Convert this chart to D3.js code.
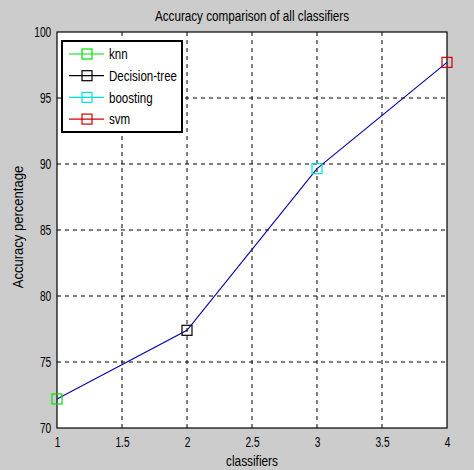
<!DOCTYPE html>
<html>
<head>
<meta charset="utf-8">
<script src="https://cdn.jsdelivr.net/npm/d3@7"></script>
<style>
  body { margin: 0; background: #cccccc; }
  text { font-family: "Liberation Sans", Arial, sans-serif; fill: #000; }
</style>
</head>
<body>
<div id="chart"></div>
<script>
var svgWidth = 474;
var svgHeight = 470;
var margin = { top: 32, right: 27, bottom: 42, left: 57 };
var width = svgWidth - margin.left - margin.right;
var height = svgHeight - margin.top - margin.bottom;

// data
var classifiers = ["knn", "Decision-tree", "boosting", "svm"];
var xValues = [1, 2, 3, 4];
var accuracy = [72.2, 77.4, 89.65, 97.7];
var markerColors = ["#00e000", "#000000", "#00e0e0", "#d00000"];
var xTicks = [1, 1.5, 2, 2.5, 3, 3.5, 4];
var yTicks = [70, 75, 80, 85, 90, 95, 100];

var svg = d3.select("#chart")
  .append("svg")
  .attr("width", svgWidth)
  .attr("height", svgHeight);

svg.append("rect")
  .attr("width", svgWidth)
  .attr("height", svgHeight)
  .attr("fill", "#cccccc");

var chart = svg.append("g")
  .attr("transform", `translate(${margin.left}, ${margin.top})`);

var scaleX = d3.scaleLinear().domain([1, 4]).range([0, width]);
var scaleY = d3.scaleLinear().domain([70, 100]).range([height, 0]);

chart.append("rect")
  .attr("width", width)
  .attr("height", height)
  .attr("fill", "#fff");

// dashed grid
chart.selectAll(".gx")
  .data(xTicks.slice(1, -1))
  .enter().append("line")
  .attr("x1", d => scaleX(d)).attr("x2", d => scaleX(d))
  .attr("y1", 0).attr("y2", height)
  .attr("stroke", "#000")
  .attr("stroke-dasharray", "4,4");
chart.selectAll(".gy")
  .data(yTicks.slice(1, -1))
  .enter().append("line")
  .attr("x1", 0).attr("x2", width)
  .attr("y1", d => scaleY(d)).attr("y2", d => scaleY(d))
  .attr("stroke", "#000")
  .attr("stroke-dasharray", "4,4");

var xaxis = d3.axisBottom(scaleX).tickValues(xTicks).tickSize(0).tickPadding(8)
  .tickFormat(d3.format("~g"));
var yaxis = d3.axisLeft(scaleY).tickValues(yTicks).tickSize(0);

var chartBottom = chart.append("g")
  .attr("transform", `translate(0, ${height})`)
  .call(xaxis);
var chartLeft = chart.append("g")
  .call(yaxis);
[chartBottom, chartLeft].forEach(function(a) {
  a.select(".domain").remove();
  a.selectAll("text").style("font-size", "15px")
    .style("font-family", '"Liberation Sans", Arial, sans-serif');
});
chartBottom.selectAll("text").attr("transform", "scale(0.68,1)");
chartLeft.selectAll("text").attr("x", -8.5).attr("transform", "scale(0.68,1)");

chart.append("rect")
  .attr("width", width)
  .attr("height", height)
  .attr("fill", "none")
  .attr("stroke", "#000")
  .attr("stroke-width", 1.2);

// line
var line = d3.line()
  .x((d, i) => scaleX(xValues[i]))
  .y(d => scaleY(d));
chart.append("path")
  .datum(accuracy)
  .attr("d", line)
  .attr("fill", "none")
  .attr("stroke", "#0a0aa8")
  .attr("stroke-width", 1.2);

chart.selectAll(".mark")
  .data(accuracy)
  .enter().append("rect")
  .attr("x", (d, i) => scaleX(xValues[i]) - 5)
  .attr("y", d => scaleY(d) - 5)
  .attr("width", 10)
  .attr("height", 10)
  .attr("fill", "none")
  .attr("stroke", (d, i) => markerColors[i])
  .attr("stroke-width", 1.2);

// legend
var legend = chart.append("g")
  .attr("transform", "translate(5, 9)");
legend.append("rect")
  .attr("width", 120)
  .attr("height", 91)
  .attr("fill", "#fff")
  .attr("stroke", "#000")
  .attr("stroke-width", 2);
var entry = legend.selectAll(".entry")
  .data(classifiers)
  .enter().append("g")
  .attr("transform", (d, i) => `translate(0, ${13 + i * 21.7})`);
entry.append("line")
  .attr("x1", 7).attr("x2", 42)
  .attr("stroke", (d, i) => markerColors[i])
  .attr("stroke-width", 1.2);
entry.append("rect")
  .attr("x", 20).attr("y", -5)
  .attr("width", 10).attr("height", 10)
  .attr("fill", "none")
  .attr("stroke", (d, i) => markerColors[i])
  .attr("stroke-width", 1.2);
entry.append("text")
  .attr("transform", "translate(47, 0) scale(0.77,1)")
  .attr("dy", "0.35em")
  .style("font-size", "15px")
  .text(d => d);

// titles
svg.append("text")
  .attr("transform", `translate(${margin.left + width / 2}, 21) scale(0.78,1)`)
  .attr("text-anchor", "middle")
  .style("font-size", "15px")
  .text("Accuracy comparison of all classifiers");
svg.append("text")
  .attr("transform", `translate(${margin.left + width / 2}, 466) scale(0.79,1)`)
  .attr("text-anchor", "middle")
  .style("font-size", "15px")
  .text("classifiers");
svg.append("text")
  .attr("transform", `translate(23, ${margin.top + height / 2 - 3}) rotate(-90) scale(0.87,1)`)
  .attr("text-anchor", "middle")
  .style("font-size", "15px")
  .text("Accuracy percentage");
</script>
</body>
</html>
